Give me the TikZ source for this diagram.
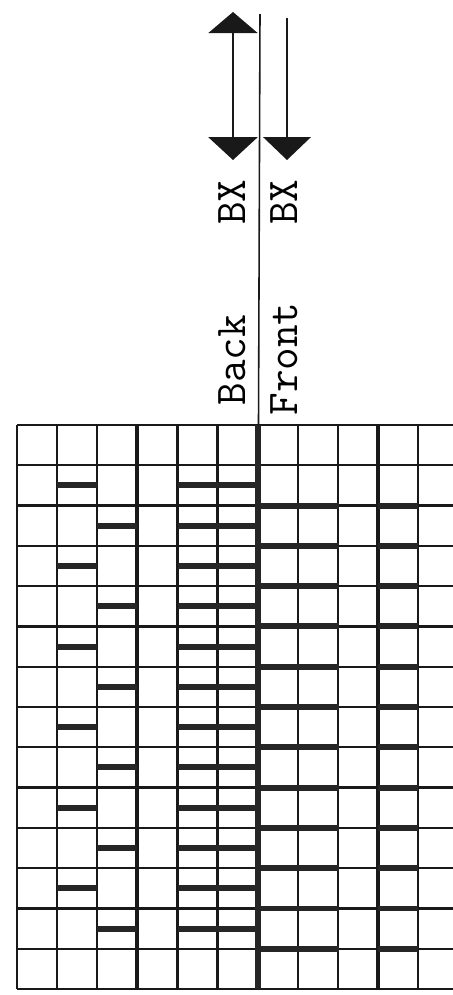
\documentclass[tikz,border=0pt]{standalone}
\usepackage{tikz}
\usetikzlibrary{arrows.meta}

\begin{document}
\begin{tikzpicture}[x=0.02cm, y=-0.02cm,
		gridline/.style={line width=1.3pt, black!90},
		needleline/.style={line width=0.9pt, black!90},
		floatbar/.style={line width=3.4pt, black!85},
		bedlabel/.style={rotate=90, anchor=base, font=\ttfamily\fontsize{25}{25}\selectfont}]
	\useasboundingbox (0,0) rectangle (453,995);
	
	% Draw the needle grid
	\foreach \c in {0,...,10}
		\draw[gridline] ({17+40.1*\c},425) -- ({17+40.1*\c},989);
	\foreach \r in {0,...,14}
		\draw[gridline] (17,{425+40.29*\r}) -- (453,{425+40.29*\r});
	\draw[line width=2.2pt, black!90] (137.3,425) -- (137.3,989);
	\draw[line width=2.2pt, black!90] (378,425) -- (378,989);
	\draw[line width=3.8pt, black!85] (258,425) -- (258,989);
	
	% Draw the stitches on the back bed
	\foreach \r in {1,3,...,11}
		\draw[floatbar] (57,{425+40.29*(\r+0.5)}) -- (97,{425+40.29*(\r+0.5)});
	\foreach \r in {2,4,...,12}
		\draw[floatbar] (97,{425+40.29*(\r+0.5)}) -- (137,{425+40.29*(\r+0.5)});
	\foreach \r in {1,...,12}
		\draw[floatbar] (178,{425+40.29*(\r+0.5)}) -- (257,{425+40.29*(\r+0.5)});
	
	% Draw the stitches on the front bed
	\foreach \r in {2,...,13} {
		\draw[floatbar] (259,{425+40.29*\r}) -- (339,{425+40.29*\r});
		\draw[floatbar] (378,{425+40.29*\r}) -- (418,{425+40.29*\r});
	}
	
	% Draw the divider and carriage arrows
	\coordinate (centertop) at (260,14);
	\coordinate (centerbot) at (258.5,425);
	\draw[needleline] (centertop) -- (centerbot);
	
	\coordinate (backtop) at (233,12);
	\coordinate (backbot) at (233,160);
	\draw[needleline, {Triangle[width=28pt,length=12pt]}-{Triangle[width=28pt,length=13pt]}] (backtop) -- (backbot);
	
	\coordinate (fronttop) at (287,18);
	\coordinate (frontbot) at (287,160);
	\draw[needleline, -{Triangle[width=27pt,length=13pt]}] (fronttop) -- (frontbot);
	
	% Labels
	\node[bedlabel] (bxback) at (245,202) {BX};
	\node[bedlabel] (bxfront) at (297,202) {BX};
	\node[bedlabel] (backlabel) at (245,360) {Back};
	\node[bedlabel] (frontlabel) at (297,359) {Front};
\end{tikzpicture}
\end{document}
